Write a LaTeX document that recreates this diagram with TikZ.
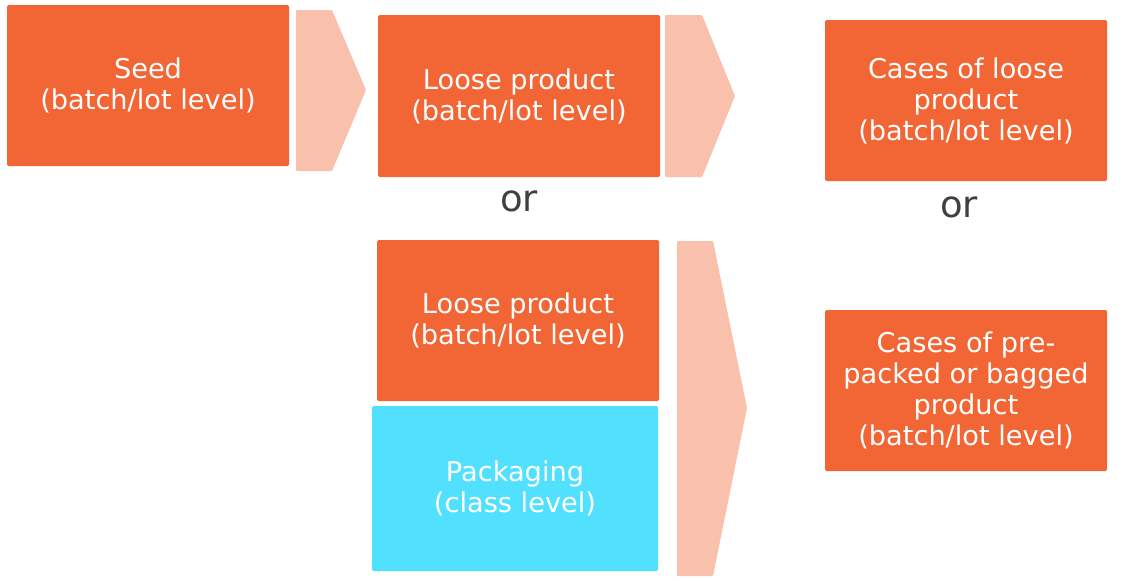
\documentclass[tikz,border=0pt]{standalone}
\usepackage{fontspec}
\setmainfont{DejaVu Sans}
\definecolor{boxorange}{HTML}{F26535}
\definecolor{boxcyan}{HTML}{52E0FF}
\definecolor{chev}{HTML}{F9C0AC}
\definecolor{ortext}{HTML}{404040}
\begin{document}
\begin{tikzpicture}[x=1pt,y=-1pt,
  box/.style={rectangle, rounded corners=1.5pt, fill=boxorange, text=white, align=center,
    inner sep=0pt, font=\fontsize{27.2}{31}\selectfont},
  pkg/.style={box, fill=boxcyan},
  chevron/.style={fill=chev, rounded corners=1pt},
  ortxt/.style={text=ortext, font=\fontsize{37}{40}\selectfont, inner sep=0pt}]
\useasboundingbox (0,0) rectangle (1122,581);
% boxes
\node[box, minimum width=282pt, minimum height=161pt] (seed) at (148,85.5) {Seed\\(batch/lot level)};
\node[box, minimum width=282pt, minimum height=162pt] (loose1) at (519,96) {Loose product\\(batch/lot level)};
\node[box, minimum width=282pt, minimum height=161pt] (cases1) at (966,100.5) {Cases of loose\\product\\(batch/lot level)};
\node[box, minimum width=282pt, minimum height=161pt] (loose2) at (518,320.5) {Loose product\\(batch/lot level)};
\node[pkg, minimum width=286pt, minimum height=165pt] (pack) at (515,488.5) {Packaging\\(class level)};
\node[box, minimum width=282pt, minimum height=161pt] (cases2) at (966,390.5) {Cases of pre-\\packed or bagged\\product\\(batch/lot level)};
% or labels
\node[ortxt] (or1) at (519,201) {or};
\node[ortxt] (or2) at (959,207) {or};
% chevrons
\fill[chevron] (296,10) -- (332,10) -- (366,90) -- (332,171) -- (296,171) -- cycle;
\fill[chevron] (665,15) -- (702,15) -- (735,96) -- (702,177) -- (665,177) -- cycle;
\fill[chevron] (677,241) -- (713,241) -- (747,408) -- (713,576) -- (677,576) -- cycle;
\end{tikzpicture}
\end{document}
